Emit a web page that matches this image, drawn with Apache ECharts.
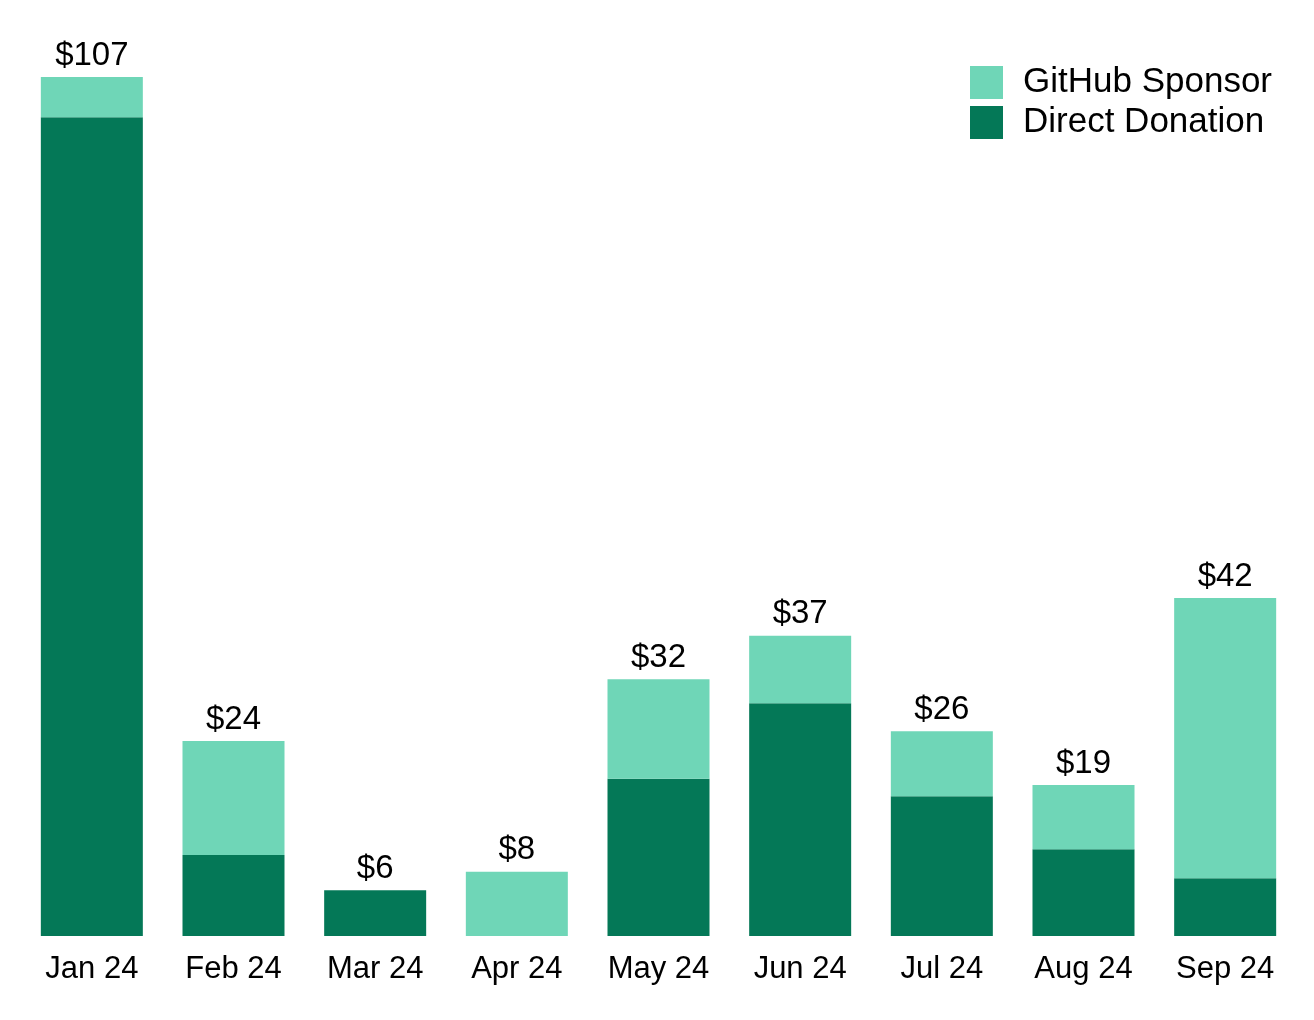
<!DOCTYPE html>
<html>
<head>
<meta charset="utf-8">
<script src="https://cdn.jsdelivr.net/npm/echarts@6/dist/echarts.min.js"></script>
<style>
html,body{margin:0;padding:0;background:#fff;}
#chart{width:1314px;height:1020px;}
</style>
</head>
<body>
<div id="chart"></div>
<script>
const months = ['Jan 24','Feb 24','Mar 24','Apr 24','May 24','Jun 24','Jul 24','Aug 24','Sep 24'];
const directDonation = [102, 10.1, 5.7, 0, 19.6, 29.0, 17.4, 10.8, 7.2];
const githubSponsor = [5, 14.2, 0, 8.0, 12.4, 8.4, 8.1, 8.0, 34.9];
const totals = months.map((m, i) => directDonation[i] + githubSponsor[i]);

const FONT = '"Liberation Sans", Arial, Helvetica, sans-serif';
const chart = echarts.init(document.getElementById('chart'), null, {renderer: 'canvas'});
chart.setOption({
  animation: false,
  backgroundColor: '#ffffff',
  grid: {left: 21, right: 18, top: 53, bottom: 84, containLabel: false},
  legend: {
    orient: 'vertical',
    left: 965,
    top: 60,
    itemWidth: 33,
    itemHeight: 33,
    itemGap: 5,
    icon: 'rect',
    data: ['GitHub Sponsor', 'Direct Donation'],
    textStyle: {fontFamily: FONT, fontSize: 35, color: '#000', padding: [5,0,0,15]}
  },
  xAxis: {
    type: 'category',
    data: months,
    axisLine: {show: false},
    axisTick: {show: false},
    axisLabel: {fontFamily: FONT, fontSize: 31, color: '#000', margin: 18}
  },
  yAxis: {
    type: 'value',
    min: 0,
    max: 110,
    show: false,
    splitLine: {show: false}
  },
  series: [
    {
      name: 'Direct Donation',
      type: 'bar',
      stack: 'total',
      data: directDonation,
      barCategoryGap: '28%',
      itemStyle: {color: '#047857'}
    },
    {
      name: 'GitHub Sponsor',
      type: 'bar',
      stack: 'total',
      data: githubSponsor,
      itemStyle: {color: '#6fd6b7'}
    },
    {
      name: 'Total',
      type: 'bar',
      stack: 'total',
      data: months.map(() => 0),
      itemStyle: {color: 'transparent'},
      label: {
        show: true,
        position: 'top',
        distance: 5,
        fontFamily: FONT,
        fontSize: 33,
        color: '#000',
        formatter: p => '$' + Math.round(totals[p.dataIndex])
      }
    }
  ]
});
</script>
</body>
</html>
